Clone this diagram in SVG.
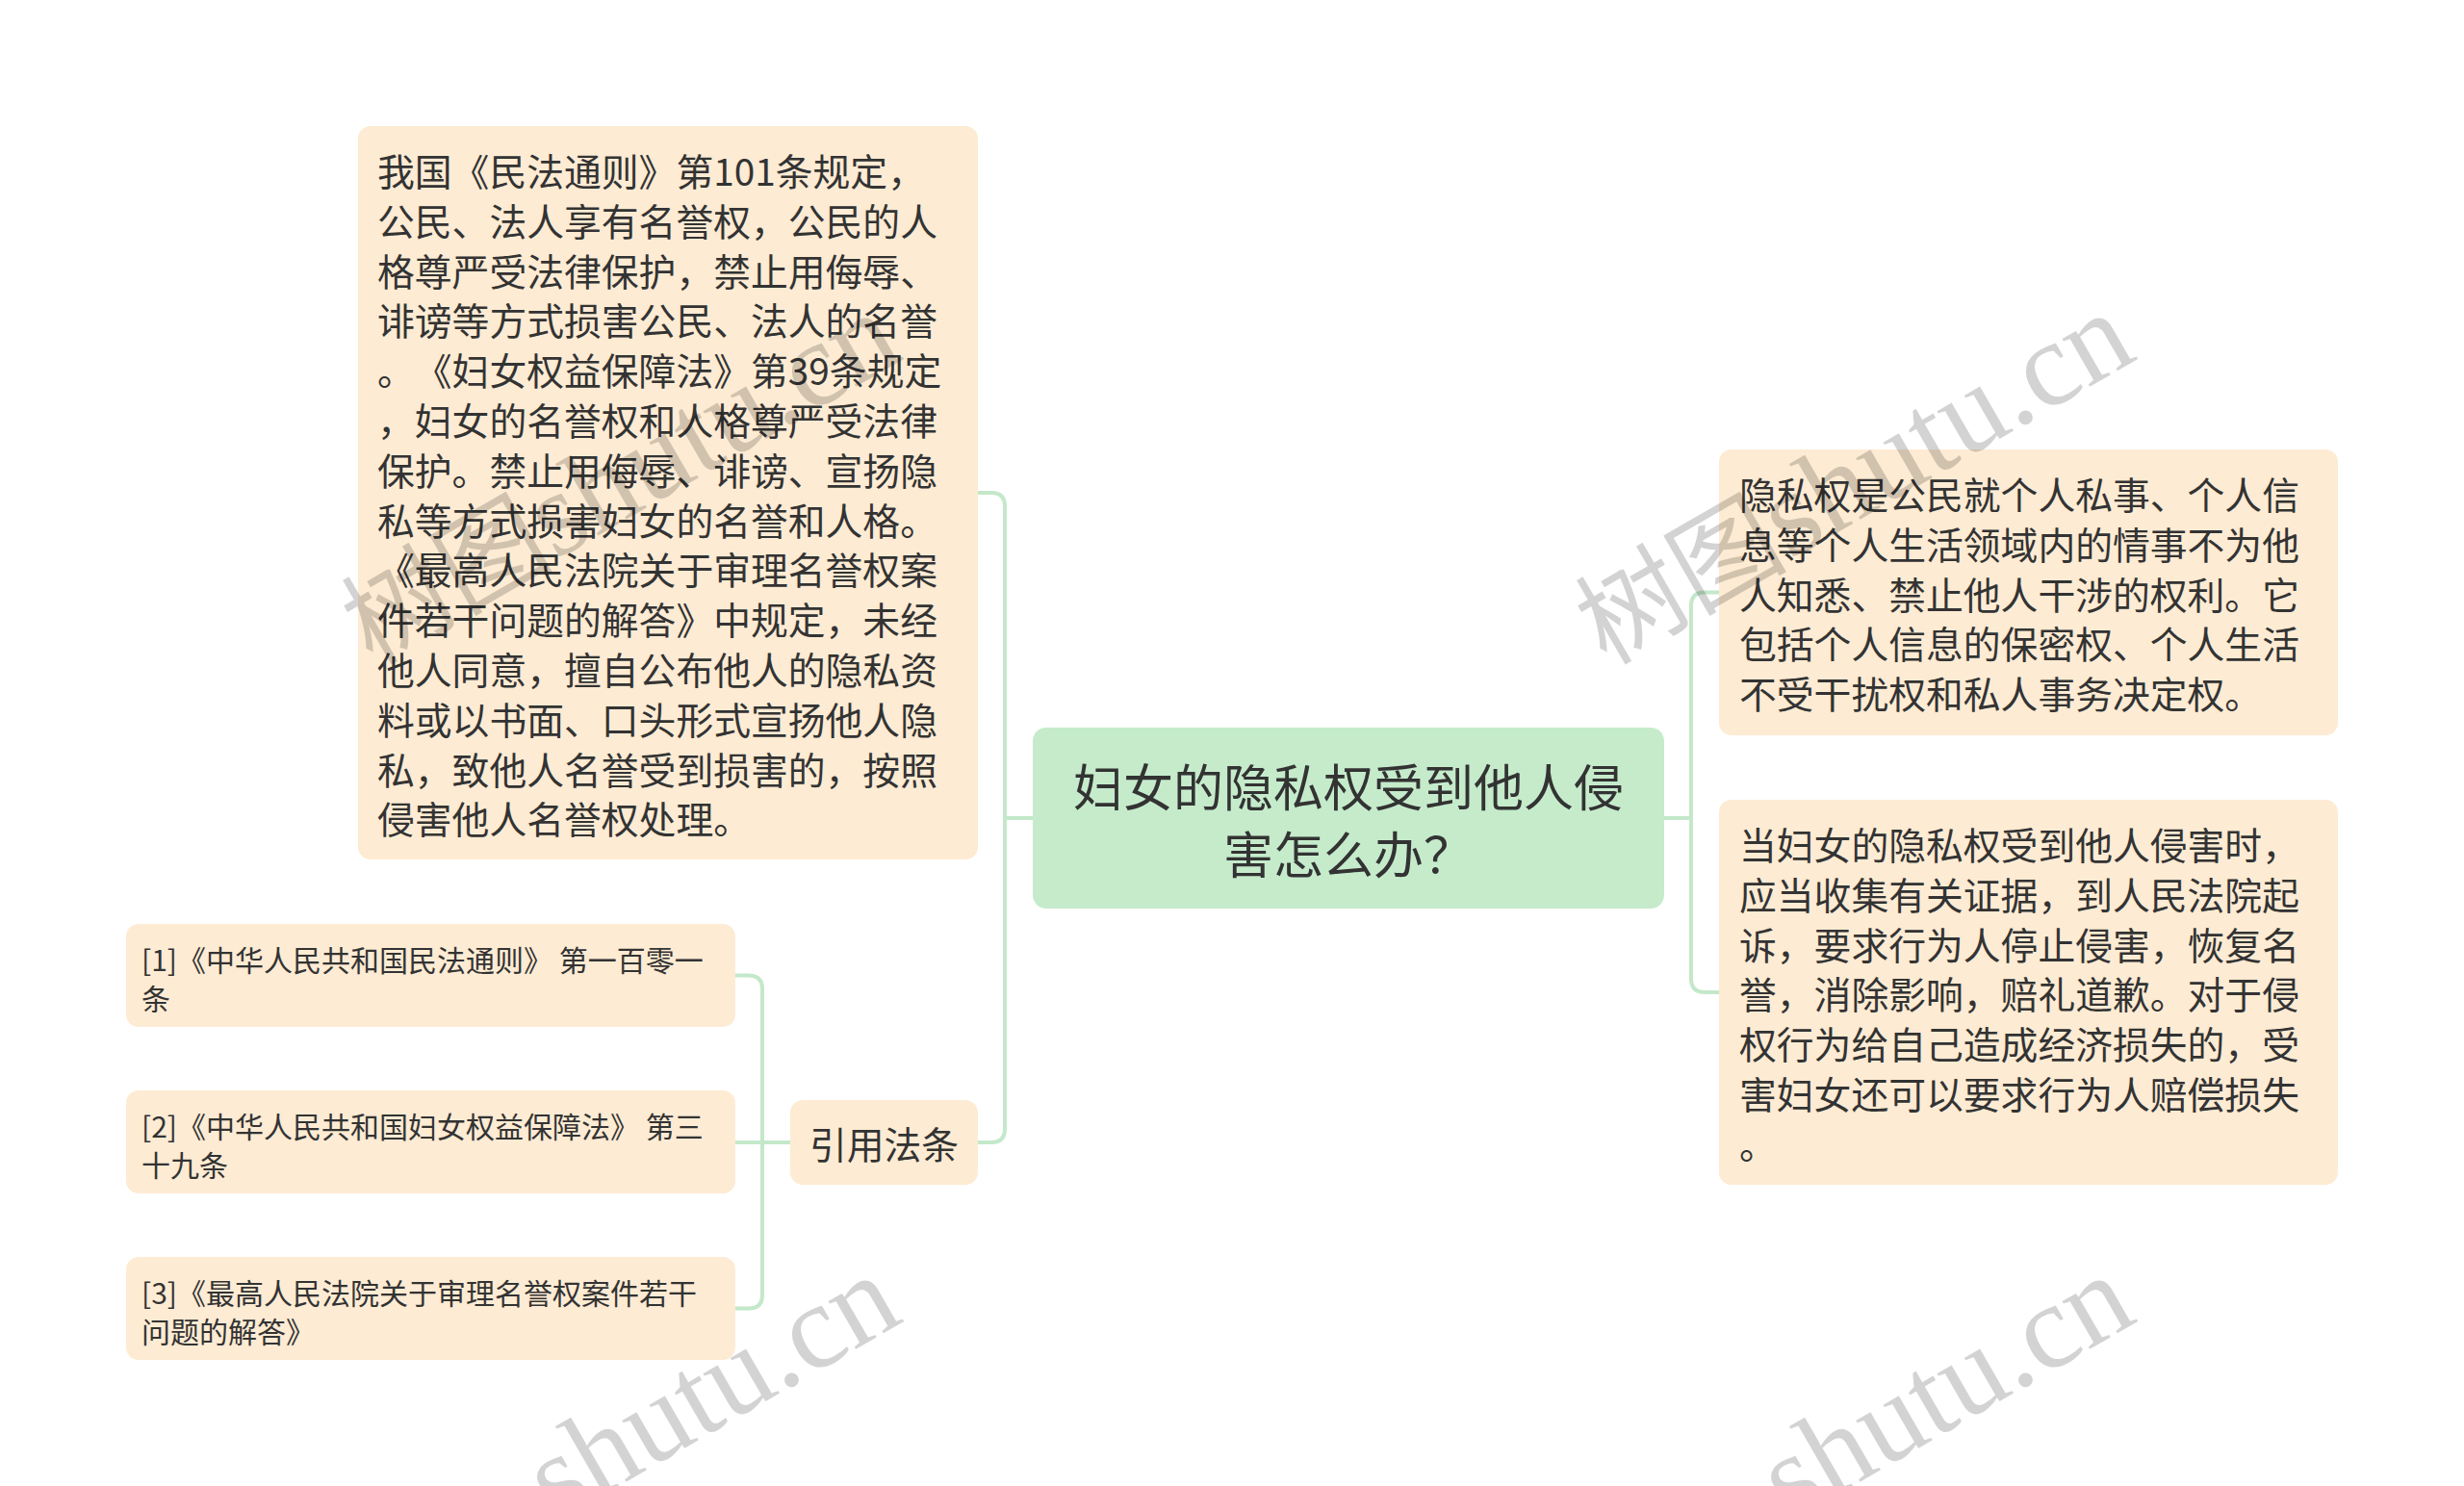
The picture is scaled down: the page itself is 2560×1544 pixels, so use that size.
<svg xmlns="http://www.w3.org/2000/svg" width="2560" height="1544" viewBox="0 0 2560 1544">
<style>
.box{fill:#fdebd3}
.root{fill:#c5ebcb}
.t{font-family:"Noto Sans CJK SC","Noto Sans",sans-serif;fill:#333;dominant-baseline:central;text-spacing-trim:space-all}
.body{font-size:38.8px}
.small{font-size:30px}
.title{font-size:52px;text-anchor:middle}
.mid{font-size:38.8px;text-anchor:middle}
.conn{fill:none;stroke:#c4e8ca;stroke-width:4}
.wm{font-family:"Liberation Serif","Noto Sans CJK SC",serif;font-size:125px;fill:#000;opacity:0.17;text-anchor:end}
.wmc{font-size:110px}
</style>
<rect width="2560" height="1544" fill="#ffffff"/>
<g id="connectors">
<path class="conn" d="M1073,850 H1044"/>
<path class="conn" d="M1016,512 H1030 Q1044,512 1044,526 V1173 Q1044,1187 1030,1187 H1016"/>
<path class="conn" d="M1729,850 H1757"/>
<path class="conn" d="M1786,615.5 H1771 Q1757,615.5 1757,629.5 V1017 Q1757,1031 1771,1031 H1786"/>
<path class="conn" d="M821,1187 H764"/>
<path class="conn" d="M764,1013.5 H778 Q792,1013.5 792,1027.5 V1345.5 Q792,1359.5 778,1359.5 H764"/>
</g>
<g id="root">
<rect class="root" x="1073" y="756" width="656" height="188" rx="14"/>
<text class="t title" x="1401" y="815">妇女的隐私权受到他人侵</text>
<text class="t title" x="1401" y="885">害怎么办？</text>
</g>
<g id="node-law-text">
<rect class="box" x="372" y="131" width="644" height="762" rx="13"/>
<text class="t body" x="392" y="176">我国《民法通则》第101条规定，</text>
<text class="t body" x="392" y="227.8">公民、法人享有名誉权，公民的人</text>
<text class="t body" x="392" y="279.6">格尊严受法律保护，禁止用侮辱、</text>
<text class="t body" x="392" y="331.4">诽谤等方式损害公民、法人的名誉</text>
<text class="t body" x="392" y="383.2">。《妇女权益保障法》第39条规定</text>
<text class="t body" x="392" y="435">，妇女的名誉权和人格尊严受法律</text>
<text class="t body" x="392" y="486.8">保护。禁止用侮辱、诽谤、宣扬隐</text>
<text class="t body" x="392" y="538.6">私等方式损害妇女的名誉和人格。</text>
<text class="t body" x="392" y="590.4">《最高人民法院关于审理名誉权案</text>
<text class="t body" x="392" y="642.2">件若干问题的解答》中规定，未经</text>
<text class="t body" x="392" y="694">他人同意，擅自公布他人的隐私资</text>
<text class="t body" x="392" y="745.8">料或以书面、口头形式宣扬他人隐</text>
<text class="t body" x="392" y="797.6">私，致他人名誉受到损害的，按照</text>
<text class="t body" x="392" y="849.4">侵害他人名誉权处理。</text>
</g>
<g id="node-cite">
<rect class="box" x="821" y="1143" width="195" height="88" rx="13"/>
<text class="t mid" x="918.5" y="1187">引用法条</text>
</g>
<g id="node-cite-1">
<rect class="box" x="131" y="960" width="633" height="107" rx="13"/>
<text class="t small" x="147" y="996">[1]《中华人民共和国民法通则》 第一百零一</text>
<text class="t small" x="147" y="1036">条</text>
</g>
<g id="node-cite-2">
<rect class="box" x="131" y="1133" width="633" height="107" rx="13"/>
<text class="t small" x="147" y="1169">[2]《中华人民共和国妇女权益保障法》 第三</text>
<text class="t small" x="147" y="1209">十九条</text>
</g>
<g id="node-cite-3">
<rect class="box" x="131" y="1306" width="633" height="107" rx="13"/>
<text class="t small" x="147" y="1342">[3]《最高人民法院关于审理名誉权案件若干</text>
<text class="t small" x="147" y="1382">问题的解答》</text>
</g>
<g id="node-privacy">
<rect class="box" x="1786" y="467" width="643" height="297" rx="13"/>
<text class="t body" x="1807" y="512">隐私权是公民就个人私事、个人信</text>
<text class="t body" x="1807" y="563.8">息等个人生活领域内的情事不为他</text>
<text class="t body" x="1807" y="615.6">人知悉、禁止他人干涉的权利。它</text>
<text class="t body" x="1807" y="667.4">包括个人信息的保密权、个人生活</text>
<text class="t body" x="1807" y="719.2">不受干扰权和私人事务决定权。</text>
</g>
<g id="node-remedy">
<rect class="box" x="1786" y="831" width="643" height="400" rx="13"/>
<text class="t body" x="1807" y="876">当妇女的隐私权受到他人侵害时，</text>
<text class="t body" x="1807" y="927.8">应当收集有关证据，到人民法院起</text>
<text class="t body" x="1807" y="979.6">诉，要求行为人停止侵害，恢复名</text>
<text class="t body" x="1807" y="1031.4">誉，消除影响，赔礼道歉。对于侵</text>
<text class="t body" x="1807" y="1083.2">权行为给自己造成经济损失的，受</text>
<text class="t body" x="1807" y="1135">害妇女还可以要求行为人赔偿损失</text>
<text class="t body" x="1807" y="1186.8">。</text>
</g>
<g id="watermarks">
<text class="wm" x="941" y="372" transform="rotate(-30 941 372)"><tspan class="wmc">树图</tspan>shutu.cn</text>
<text class="wm" x="2223" y="372" transform="rotate(-30 2223 372)"><tspan class="wmc">树图</tspan>shutu.cn</text>
<text class="wm" x="941" y="1372" transform="rotate(-30 941 1372)">shutu.cn</text>
<text class="wm" x="2223" y="1372" transform="rotate(-30 2223 1372)">shutu.cn</text>
</g>
</svg>
